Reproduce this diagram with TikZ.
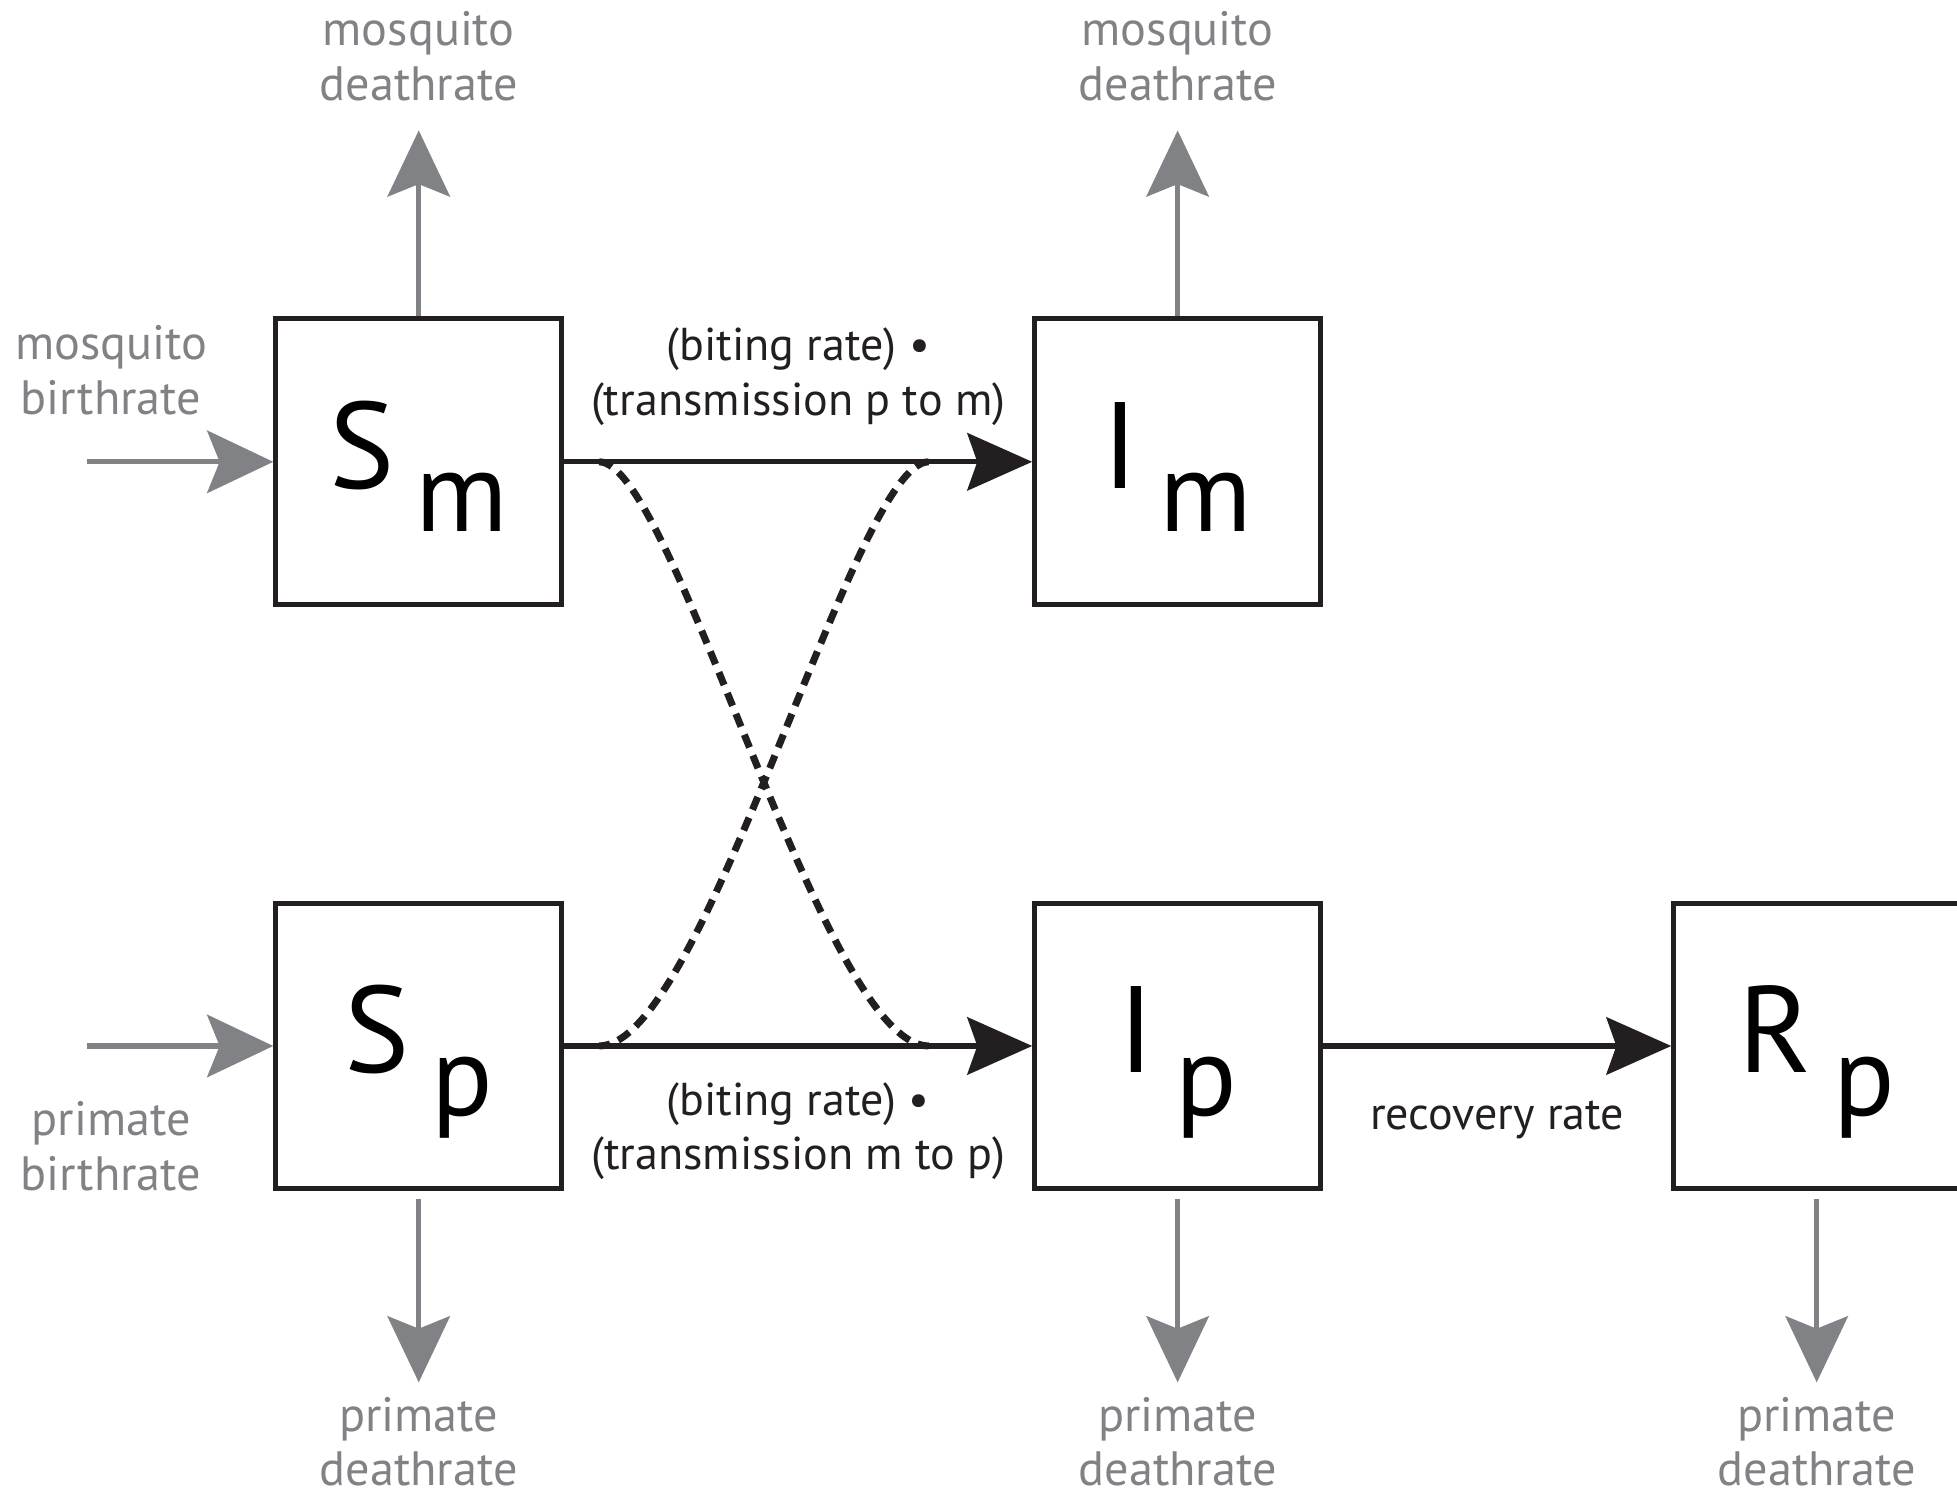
\documentclass[tikz,border=0pt]{standalone}
\usepackage{fontspec}
\setmainfont{PT Sans}
\usetikzlibrary{arrows.meta,positioning}
\definecolor{flowgrey}{RGB}{128,130,133}
\definecolor{flowblack}{RGB}{35,31,32}
\newcommand{\compname}[2]{#1\hspace{0.17cm}\raisebox{-0.35cm}{\fontsize{26}{28}\selectfont #2}}
\tikzset{
    comp/.style={
        rectangle,
        draw=flowblack,
        line width=1.15pt,
        minimum size=2.29cm,
        inner sep=0pt,
        text height=0.72cm,
        text depth=0.3cm,
        font=\fontsize{28}{30}\selectfont,
    },
    rate/.style={
        align=center,
        inner sep=0pt,
        text=flowgrey,
        font=\fontsize{11}{12.5}\selectfont,
    },
    flowlabel/.style={
        align=center,
        inner sep=0pt,
        text=flowblack,
        font=\fontsize{10.5}{12.5}\selectfont,
    },
    bite/.style={
        draw=flowblack,
        line width=1.6pt,
        dash pattern=on 1.1mm off 0.7mm,
    },
    outflow/.style={
        draw=flowgrey,
        -{Stealth[length=5.3mm,width=5mm,inset=1mm]},
        line width=1.2pt,
    },
    inflow/.style={
        draw=flowgrey,
        -{Stealth[length=5.3mm,width=5mm,inset=1mm]},
        line width=1.2pt,
    },
    every edge/.style={
        draw=flowblack,
        -{Stealth[length=5.2mm,width=4.6mm,inset=0.8mm]},
        line width=1.2pt,
    },
}
\begin{document}
\begin{tikzpicture}
    \clip (0,0) rectangle (15.68,-11.97);
    \node [comp] (Sm) at (3.355,-3.70) {\compname{S}{m}};
    \node [comp, right=3.75cm of Sm] (Im) {\compname{I}{m}};
    \node [comp, below=2.35cm of Sm] (Sp) {\compname{S}{p}};
    \node [comp, right=3.75cm of Sp] (Ip) {\compname{I}{p}};
    \node [comp, right=2.79cm of Ip] (Rp) {\compname{R}{p}};

    \coordinate [above=1.49cm of Sm] (SmTop);
    \coordinate [above=1.49cm of Im] (ImTop);
    \coordinate [below=1.53cm of Sp] (SpBot);
    \coordinate [below=1.53cm of Ip] (IpBot);
    \coordinate [below=1.53cm of Rp] (RpBot);
    \coordinate [left=1.49cm of Sm] (SmIn);
    \coordinate [left=1.49cm of Sp] (SpIn);

    \node [rate, above=0.23cm of SmTop] (SmDeath) {mosquito\\deathrate};
    \node [rate, above=0.23cm of ImTop] (ImDeath) {mosquito\\deathrate};
    \node [rate, below=0.11cm of SpBot] (SpDeath) {primate\\deathrate};
    \node [rate, below=0.11cm of IpBot] (IpDeath) {primate\\deathrate};
    \node [rate, below=0.11cm of RpBot] (RpDeath) {primate\\deathrate};
    \node [rate, above=0.37cm of SmIn, xshift=0.19cm] (SmBirth) {mosquito\\birthrate};
    \node [rate, below=0.44cm of SpIn, xshift=0.19cm] (SpBirth) {primate\\birthrate};

    \draw (Sm) edge node [flowlabel, above=0.27cm] {(biting rate) \textbullet\\(transmission p to m)} (Im);
    \draw (Sp) edge node [flowlabel, below=0.27cm] {(biting rate) \textbullet\\(transmission m to p)} (Ip);
    \draw (Ip) edge node [flowlabel, below=0.42cm] {recovery rate} (Rp);

    \draw (Sm) edge[outflow] (SmTop);
    \draw (Im) edge[outflow] (ImTop);
    \draw (Sp) edge[outflow, shorten <=0.06cm] (SpBot);
    \draw (Ip) edge[outflow, shorten <=0.06cm] (IpBot);
    \draw (Rp) edge[outflow, shorten <=0.06cm] (RpBot);
    \draw (SmIn) edge[inflow] (Sm);
    \draw (SpIn) edge[inflow] (Sp);

    \coordinate [right=0.28cm of Sm.east] (biteSm);
    \coordinate [left=0.83cm of Im.west] (biteIm);
    \coordinate [right=0.28cm of Sp.east] (biteSp);
    \coordinate [left=0.83cm of Ip.west] (biteIp);
    \draw [bite] (biteSm) .. controls +(0.6,0) and +(-0.85,0) .. (biteIp);
    \draw [bite] (biteIm) .. controls +(-0.6,0) and +(0.85,0) .. (biteSp);
\end{tikzpicture}
\end{document}
